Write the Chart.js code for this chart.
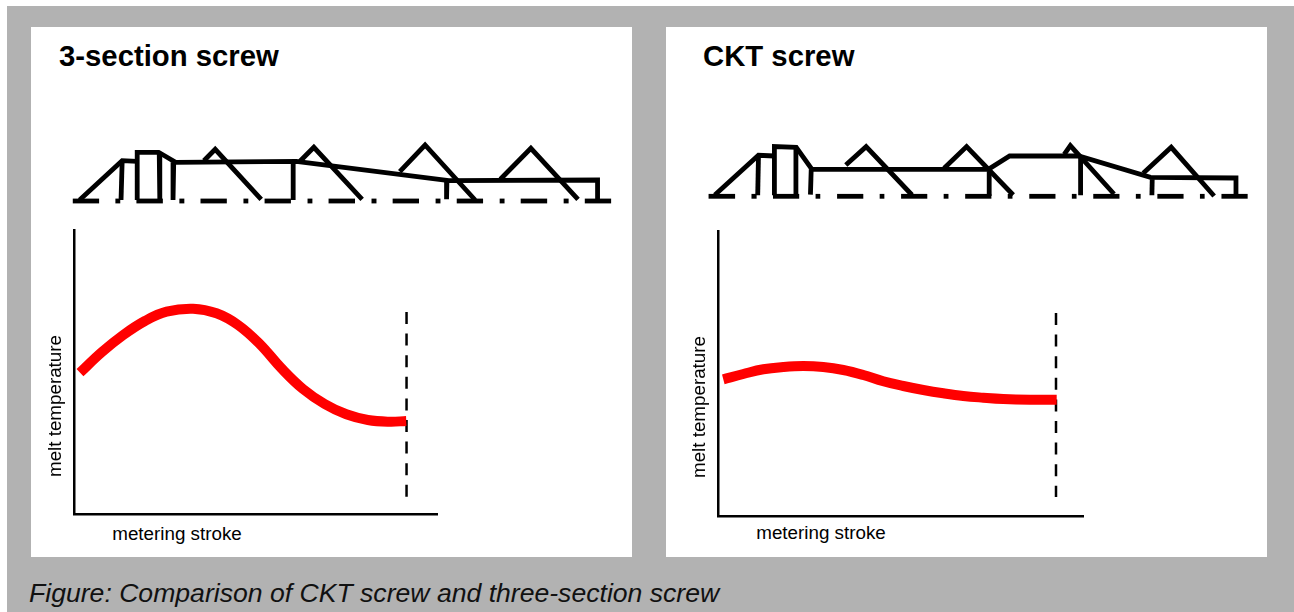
<!DOCTYPE html>
<html>
<head>
<meta charset="utf-8">
<script src="https://cdn.jsdelivr.net/npm/chart.js@4"></script>
<style>
  html, body { margin: 0; padding: 0; background: #fff; overflow: hidden; }
  #page { position: relative; width: 1294px; height: 612px; font-family: "Liberation Sans", Arial, sans-serif; }
  #back { position: absolute; left: 7px; top: 6px; width: 1287px; height: 606px; background: #b2b2b2; }
  .panel { position: absolute; top: 27px; width: 601px; height: 530px; background: #fff; }
  canvas { position: absolute; }
  .title { position: absolute; top: 39px; font-size: 29.3px; font-weight: bold; line-height: 34px; white-space: nowrap; color: #000; }
  .xlabel { position: absolute; font-size: 18.8px; line-height: 20px; white-space: nowrap; color: #000; transform: translateX(-50%); }
  .ylabel { position: absolute; font-size: 18.8px; line-height: 20px; white-space: nowrap; color: #000; transform: translate(-50%, -50%) rotate(-90deg); }
  #caption { position: absolute; left: 29px; top: 577px; font-size: 26.6px; font-style: italic; line-height: 32px; white-space: nowrap; color: #111; }
</style>
</head>
<body>
<div id="page">
  <div id="back"></div>
  <div class="panel" style="left:31px"></div>
  <div class="panel" style="left:666px"></div>

  <div class="title" style="left:59px">3-section screw</div>
  <div class="title" style="left:703px">CKT screw</div>

  <canvas id="screwLeft" width="590" height="100" style="left:40px;top:120px"></canvas>
  <canvas id="screwRight" width="570" height="100" style="left:690px;top:120px"></canvas>
  <canvas id="meltLeft" width="390" height="300" style="left:60px;top:220px"></canvas>
  <canvas id="meltRight" width="390" height="300" style="left:704px;top:220px"></canvas>

  <div class="ylabel" style="left:55px;top:406px">melt temperature</div>
  <div class="ylabel" style="left:699px;top:407px">melt temperature</div>
  <div class="xlabel" style="left:177px;top:524px">metering stroke</div>
  <div class="xlabel" style="left:821px;top:523px">metering stroke</div>

  <div id="caption">Figure: Comparison of CKT screw and three-section screw</div>
</div>

<script>
const leftStroke = [5.5, 27.2, 48.8, 70.5, 92.2, 118.8, 142.2, 163.8, 185.5, 207.2, 228.8, 250.5, 272.2, 293.8, 315.5, 332.2];
const leftTemp = [141.3, 161.7, 179, 193, 202.3, 205.3, 200.7, 189, 170, 145.7, 125, 110, 99.7, 94, 92.3, 93];
const rightStroke = [4.8, 24.8, 44.8, 64.8, 84.8, 104.8, 124.8, 144.8, 164.8, 184.8, 204.8, 224.8, 244.8, 264.8, 284.8, 311.5, 338.2];
const rightTemp = [137.2, 142.5, 147.2, 149.5, 150.5, 149.5, 146.5, 141.5, 135.2, 130.5, 126.5, 123.2, 120.5, 118.8, 117.5, 116.8, 116.8];

// end of stroke marker [x, top, bottom]
const leftStrokeEnd = [332.5, 202, 17];
const rightStrokeEnd = [337.5, 203.5, 19.5];

// screw outlines: centre line dashes
const leftDashes = [[29,52.3],[66.7,71],[85.3,108.7],[123.3,127.7],[142,165.3],[180,184.3],[198.7,222],[236.7,241],[255.3,278.7],[293.3,297.7],[312,335.3],[350,354.3],[368.7,392],[406.7,411],[425.3,448.7],[463.3,467.7],[482,505.3]];
const rightDashes = [[17,41.3],[56.3,61],[76,100],[115,119.3],[134.7,158.7],[173.7,178],[193.3,217.3],[232.3,236.7],[252,276],[291,295.3],[310.7,334.7],[349.7,354],[369.3,393.3],[408.3,412.7],[428,452],[467,471.3],[486.7,510.7]];

// screw outlines: root, barrier and flights
const leftScrew = [
  [[35,1],[72.7,40.3],[86,39.7]],
  [[86,1],[86,48.7],[105,48.7],[120,38.7],[226.7,39.7],[361.7,20.3],[493.3,21],[493.3,1]],
  [[72.7,40.3],[71.7,1]],
  [[105.5,48],[106,1]],
  [[118.3,38.7],[117.7,1]],
  [[145,40.3],[155,51.7],[195.7,1.7]],
  [[224,38.7],[224,1]],
  [[230,39.7],[242.3,53.7],[285,1.7]],
  [[318.3,29.3],[340.7,56],[385,1]],
  [[360,19.3],[359.7,1.7]],
  [[407.3,21.7],[434.3,52.7],[476,1.7]]
];
const rightScrew = [
  [[22.7,1.3],[62.7,41],[77.3,40.3]],
  [[77.3,1],[77.3,49.7],[97.3,49],[111.7,27],[273.3,27],[292.7,40.3],[356,40.3],[421.7,19],[500,18.3],[500,1.3]],
  [[62.7,39.7],[62,1]],
  [[97,48],[97,1.3]],
  [[111,27],[110.3,1.7]],
  [[142.7,31.3],[161.3,49.7],[203.3,1.3]],
  [[232.7,28],[253.3,49.7],[296,1.3]],
  [[274,24.7],[274,0.3]],
  [[342.7,42],[348.3,50.7],[388.3,2.3]],
  [[357.7,39],[357.7,1]],
  [[415,23],[440.7,49],[480,0.3]],
  [[423.3,17],[423,1]]
];

Chart.defaults.animation = false;
Chart.defaults.responsive = false;
Chart.defaults.plugins.legend.display = false;
Chart.defaults.plugins.tooltip.enabled = false;

function toPoints(line) {
  return line.map(p => ({ x: p[0], y: p[1] }));
}

function drawScrew(id, lines, dashes, xMax, yMin, yMax) {
  const datasets = [];
  for (let i = 0; i < lines.length; i++) {
    datasets.push({ data: toPoints(lines[i]) });
  }
  for (let i = 0; i < dashes.length; i++) {
    datasets.push({ data: [{ x: dashes[i][0], y: 0 }, { x: dashes[i][1], y: 0 }] });
  }
  datasets.forEach(d => {
    d.showLine = true;
    d.pointRadius = 0;
    d.borderColor = '#000';
    d.borderWidth = 4.8;
    d.borderJoinStyle = 'miter';
    d.tension = 0;
  });
  new Chart(document.getElementById(id).getContext('2d'), {
    type: 'scatter',
    data: { datasets: datasets },
    options: {
      scales: {
        x: { type: 'linear', display: false, min: 0, max: xMax },
        y: { type: 'linear', display: false, min: yMin, max: yMax }
      }
    }
  });
}

function drawMelt(id, stroke, temp, strokeEnd, xMax, yMax, padding) {
  new Chart(document.getElementById(id).getContext('2d'), {
    type: 'scatter',
    data: {
      datasets: [
        {
          data: stroke.map((s, i) => ({ x: s, y: temp[i] })),
          showLine: true,
          pointRadius: 0,
          borderColor: '#ff0000',
          borderWidth: 10,
          tension: 0.4
        },
        {
          data: [{ x: strokeEnd[0], y: strokeEnd[1] }, { x: strokeEnd[0], y: strokeEnd[2] }],
          showLine: true,
          pointRadius: 0,
          borderColor: '#000',
          borderWidth: 2.5,
          borderDash: [12, 9.6]
        }
      ]
    },
    options: {
      layout: { padding: padding },
      scales: {
        x: {
          type: 'linear', min: 0, max: xMax,
          ticks: { display: false },
          grid: { display: false, drawTicks: false },
          border: { display: true, color: '#000', width: 2.5 }
        },
        y: {
          type: 'linear', min: 0, max: yMax,
          ticks: { display: false },
          grid: { display: false, drawTicks: false },
          border: { display: true, color: '#000', width: 2.5 }
        }
      }
    }
  });
}

drawScrew('screwLeft', leftScrew, leftDashes, 522, -19, 81);
drawScrew('screwRight', rightScrew, rightDashes, 522, -23.7, 76.3);
drawMelt('meltLeft', leftStroke, leftTemp, leftStrokeEnd, 363, 284, { left: 14.5, right: 13, top: 10, bottom: 6 });
drawMelt('meltRight', rightStroke, rightTemp, rightStrokeEnd, 364.5, 285.5, { left: 14.5, right: 11, top: 11, bottom: 3.5 });
</script>
</body>
</html>
